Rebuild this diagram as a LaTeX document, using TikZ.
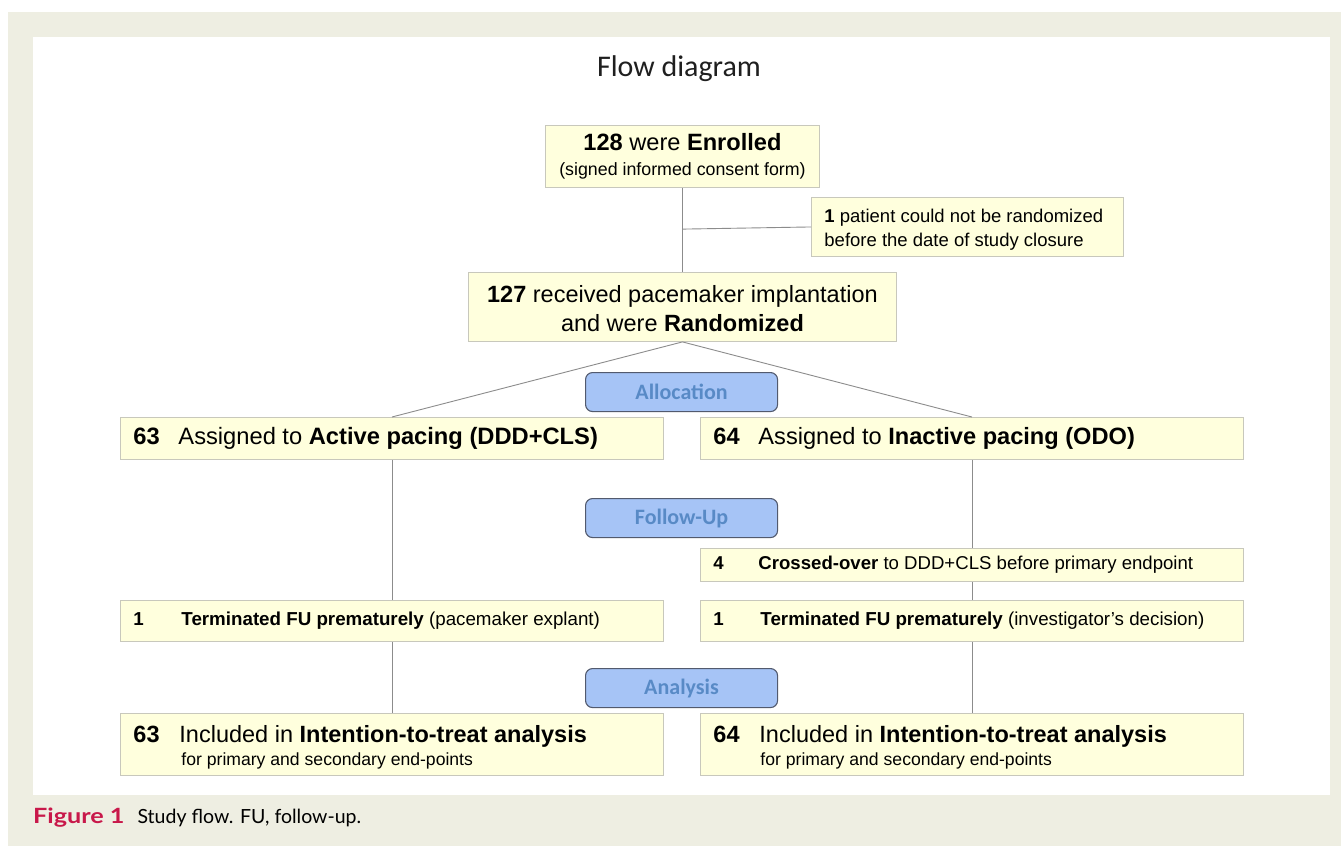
\documentclass[tikz,border=0pt]{standalone}
\usepackage{fontspec}
\setmainfont{Liberation Sans}
\newfontfamily\titlefont{Carlito}
\newfontfamily\capfont{Lato}
\usetikzlibrary{calc}

\definecolor{pagebg}{RGB}{238,238,226}
\definecolor{boxfill}{RGB}{255,255,221}
\definecolor{boxline}{RGB}{200,200,188}
\definecolor{linkclr}{RGB}{140,140,140}
\definecolor{phasefill}{RGB}{166,196,246}
\definecolor{phaseline}{RGB}{82,90,110}
\definecolor{phasetext}{RGB}{88,138,198}
\definecolor{figred}{RGB}{200,24,74}

% natural interword spacing of the current font inside aligned node text
\newcommand{\natsp}{\spaceskip=0pt\xspaceskip=0pt\relax}

\begin{document}
\begin{tikzpicture}[x=1pt,y=-1pt,
  box/.style={draw=boxline, fill=boxfill, line width=0.9pt, rectangle,
    anchor=north west, inner ysep=0pt, text=black},
  cbox/.style={box, align=center, inner xsep=0pt},
  lbox/.style={box, align=left, inner xsep=13pt},
  phase/.style={draw=phaseline, fill=phasefill, line width=1.1pt,
    rounded corners=7pt, anchor=north west, minimum width=192pt,
    minimum height=39pt, inner sep=0pt, text=phasetext,
    font=\titlefont\bfseries\fontsize{22}{24}\selectfont},
  link/.style={draw=linkclr, line width=0.9pt}
]
\useasboundingbox (0,0) rectangle (1341,846);
% page and panel
\fill[pagebg] (8,12) rectangle (1341,846);
\fill[white] (33,37) rectangle (1330,795);

% title
\node[font=\titlefont\fontsize{30}{34}\selectfont, text=black!88, anchor=base]
  (title) at (679,76) {Flow diagram};

% top part
\node[cbox, minimum width=274pt, minimum height=62pt,
  font=\fontsize{23.6}{25.5}\selectfont] (enr) at (545,125)
  {\natsp\textbf{128} were \textbf{Enrolled}\\
   \natsp\fontsize{17.8}{25.5}\selectfont (signed informed consent form)};

\node[lbox, minimum width=312pt, minimum height=59pt, text width=286pt,
  font=\fontsize{18.5}{24}\selectfont] (excl) at (811,197)
  {\natsp\rule{0pt}{19pt}\textbf{1} patient could not be randomized\\
   \natsp before the date of study closure};

\node[cbox, minimum width=428pt, minimum height=69pt,
  font=\fontsize{23.5}{29}\selectfont] (rand) at (468,272)
  {\natsp\rule{0pt}{21pt}\textbf{127} received pacemaker implantation\\
   \natsp and were \textbf{Randomized}};

% phase labels
\node[phase] (alloc) at (585,372) {Allocation};
\node[phase] (follow) at (585,498) {Follow-Up};
\node[phase] (anal) at (585,668) {Analysis};

% allocation
\node[lbox, minimum width=543pt, minimum height=42pt, text width=517pt,
  font=\fontsize{23.7}{27}\selectfont] (act) at (120,417)
  {\natsp\makebox[45pt][l]{\textbf{63}}Assigned to \textbf{Active pacing (DDD+CLS)}};
\node[lbox, minimum width=543pt, minimum height=42pt, text width=517pt,
  font=\fontsize{23.6}{27}\selectfont] (inact) at (700,417)
  {\natsp\makebox[45pt][l]{\textbf{64}}Assigned to \textbf{Inactive pacing (ODO)}};

% follow-up
\node[lbox, minimum width=543pt, minimum height=33pt, text width=517pt,
  font=\fontsize{18.6}{22}\selectfont] (cross) at (700,548)
  {\natsp\makebox[45pt][l]{\textbf{4}}\textbf{Crossed-over} to DDD+CLS before primary endpoint};
\node[lbox, minimum width=543pt, minimum height=41pt, text width=517pt,
  font=\fontsize{18.75}{22}\selectfont] (terml) at (120,600)
  {\natsp\makebox[48pt][l]{\textbf{1}}\textbf{Terminated FU prematurely} (pacemaker explant)};
\node[lbox, minimum width=543pt, minimum height=41pt, text width=517pt,
  font=\fontsize{18.75}{22}\selectfont] (termr) at (700,600)
  {\natsp\makebox[47pt][l]{\textbf{1}}\textbf{Terminated FU prematurely} (investigator's decision)};

% analysis
\node[lbox, minimum width=543pt, minimum height=62pt, text width=517pt,
  font=\fontsize{23.5}{23.5}\selectfont] (finl) at (120,713)
  {\natsp\rule{0pt}{23pt}\makebox[46pt][l]{\textbf{63}}Included in \textbf{Intention-to-treat analysis}\\
   \natsp\fontsize{17.6}{23.5}\selectfont\hspace*{48pt}for primary and secondary end-points};
\node[lbox, minimum width=543pt, minimum height=62pt, text width=517pt,
  font=\fontsize{23.5}{23.5}\selectfont] (finr) at (700,713)
  {\natsp\rule{0pt}{23pt}\makebox[46pt][l]{\textbf{64}}Included in \textbf{Intention-to-treat analysis}\\
   \natsp\fontsize{17.6}{23.5}\selectfont\hspace*{47pt}for primary and secondary end-points};

% connectors
\coordinate (br) at ($(enr.south)!0.49!(rand.north)$);
\draw[link] (enr.south) -- (rand.north);
\draw[link] (br) -- (excl.west);
\draw[link] (rand.south) -- (act.north);
\draw[link] (rand.south) -- (inact.north);
\draw[link] (act.south) -- (terml.north);
\draw[link] (terml.south) -- (finl.north);
\draw[link] (inact.south) -- (cross.north);
\draw[link] (cross.south) -- (termr.north);
\draw[link] (termr.south) -- (finr.north);

% caption
\node[anchor=base west, inner sep=0pt, font=\capfont\fontsize{19.5}{24}\selectfont] (cap) at (33,823)
  {\textcolor{figred}{\fontsize{21}{24}\selectfont\bfseries\scalebox{1.2}[1]{Figure 1}}\hspace{13pt}Study flow. FU, follow-up.};
\end{tikzpicture}
\end{document}
